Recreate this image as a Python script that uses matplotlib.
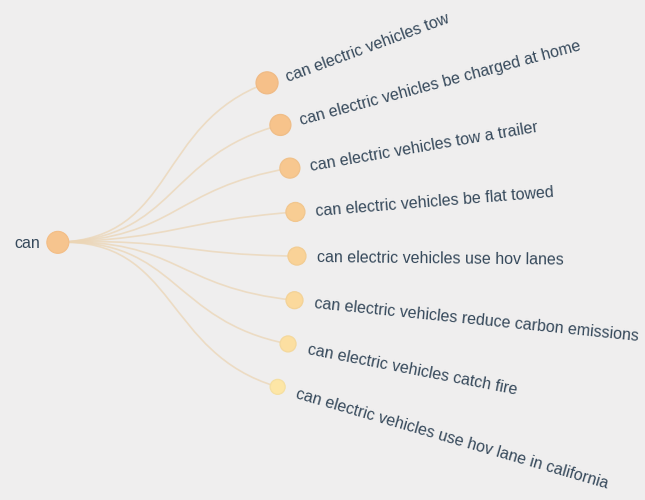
import numpy as np
import matplotlib
matplotlib.use("Agg")
import matplotlib.pyplot as plt
from matplotlib.path import Path
from matplotlib.patches import PathPatch, Circle
from matplotlib.colors import to_rgb

# data: the root query and its autocomplete suggestions (ranked)
root_label = "can"
suggestions = [
    "can electric vehicles tow",
    "can electric vehicles be charged at home",
    "can electric vehicles tow a trailer",
    "can electric vehicles be flat towed",
    "can electric vehicles use hov lanes",
    "can electric vehicles reduce carbon emissions",
    "can electric vehicles catch fire",
    "can electric vehicles use hov lane in california",
]
rank = [1, 2, 3, 4, 5, 6, 7, 8]

W, H = 645, 500
BG = "#efeeee"
TEXT = "#36495b"
LINK = "#ebd5b5"
plt.rcParams["font.family"] = ["Liberation Sans", "DejaVu Sans"]

# radial layout (pixel units, y grows downward)
cx, cy = -190.0, 251.0
r_root, r_leaf = 248.0, 487.0
a_first, a_step = -20.2, 5.2
angles = np.radians(a_first + a_step * np.arange(len(suggestions)))
a_root = angles.mean()


def polar(a, r):
    return cx + r * np.cos(a), cy + r * np.sin(a)


def node_color(rk):
    top, bottom = np.array(to_rgb("#f6c089")), np.array(to_rgb("#fde6a6"))
    t = (rk - 1) / (len(rank) - 1)
    return tuple(top + (bottom - top) * t ** 1.3)


fig = plt.figure(figsize=(W / 100, H / 100), dpi=100, facecolor=BG)
ax = fig.add_axes([0, 0, 1, 1])
ax.set_facecolor(BG)
ax.set_xlim(0, W)
ax.set_ylim(H, 0)
ax.set_aspect("equal")
ax.axis("off")

x0, y0 = polar(a_root, r_root)
r_mid = (r_root + r_leaf) / 2

# links (d3 linkRadial style cubic curves)
for a in angles:
    pts = [polar(a_root, r_root), polar(a_root, r_mid), polar(a, r_mid), polar(a, r_leaf)]
    path = Path(pts, [Path.MOVETO, Path.CURVE4, Path.CURVE4, Path.CURVE4])
    ax.add_patch(PathPatch(path, facecolor="none", edgecolor=LINK, lw=1.2, alpha=0.75, zorder=1))

# root node
ax.add_patch(Circle((x0, y0), 11, facecolor="#f6c48e", edgecolor="#f3bd85", lw=0.8, zorder=3))
ax.text(x0 - 18, y0 + 1, root_label, ha="right", va="center", fontsize=11.5, color=TEXT, zorder=4)

# leaf nodes and labels
for a, label, rk in zip(angles, suggestions, rank):
    x, y = polar(a, r_leaf)
    rad = 11 - (rk - 1) * 0.5
    col = node_color(rk)
    edge = tuple(c * 0.97 for c in col)
    ax.add_patch(Circle((x, y), rad, facecolor=col, edgecolor=edge, lw=0.9, zorder=3))
    tx, ty = polar(a, r_leaf + 20)
    ax.text(tx, ty, label, ha="left", va="center_baseline", rotation=-np.degrees(a),
            rotation_mode="anchor", fontsize=11.5, color=TEXT, zorder=4)

fig.savefig("out.png", dpi=100, facecolor=BG)
